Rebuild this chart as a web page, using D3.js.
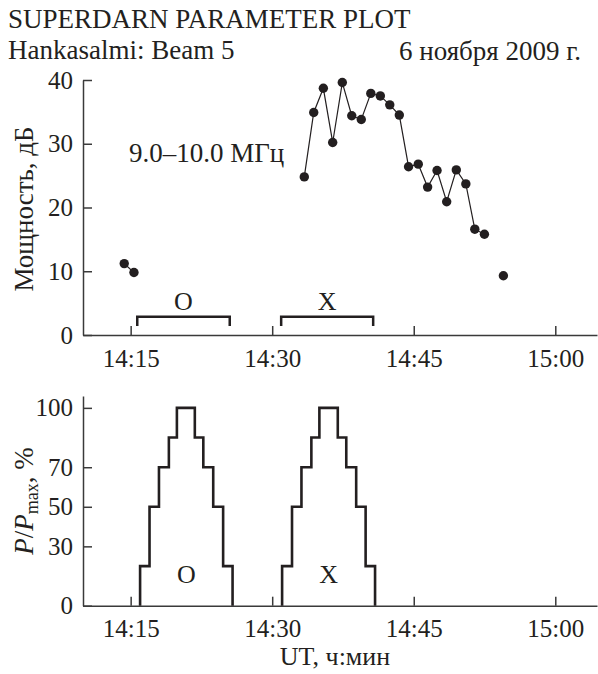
<!DOCTYPE html>
<html>
<head>
<meta charset="utf-8">
<script src="https://cdn.jsdelivr.net/npm/d3@7"></script>
<style>
  html, body { margin: 0; padding: 0; background: #fff; }
  svg { display: block; }
  svg text { font-family: "Liberation Serif", "Times New Roman", Tinos, "Nimbus Roman", "FreeSerif", "Noto Serif", "DejaVu Serif", serif !important; fill: #231f20; }
</style>
</head>
<body>
<svg id="chart" width="598" height="674"></svg>
<script>
// ---------- data (time in minutes after 14:00 UT) ----------
const powerTimes = [14.32, 15.35, 33.40, 34.40, 35.42, 36.41, 37.43, 38.43, 39.44, 40.45, 41.46,
                    42.46, 43.47, 44.45, 45.48, 46.47, 47.47, 48.49, 49.51, 50.52, 51.47, 52.49, 54.50];
const powerValues = [11.2, 9.8, 24.8, 34.9, 38.7, 30.2, 39.6, 34.4, 33.8, 37.9, 37.5,
                     36.1, 34.5, 26.4, 26.8, 23.2, 25.8, 20.9, 25.9, 23.7, 16.6, 15.8, 9.3];
const modeNames = ["O", "X"];
const modeRanges = [[15.7, 25.5], [30.95, 40.7]];
const stepTimesO = [16.0, 16.0, 17.0, 18.0, 19.05, 19.9, 21.8, 22.7, 23.75, 24.8, 25.8];
const stepTimesX = [31.05, 31.05, 32.1, 33.1, 34.15, 35.0, 36.95, 37.85, 38.9, 39.9, 40.9];
const stepLevels = [0, 20, 50, 70, 85, 100, 85, 70, 50, 20, 0];
const timeTicks = [15, 30, 45, 60];
const timeTickLabels = ["14:15", "14:30", "14:45", "15:00"];
const powerTicks = [0, 10, 20, 30, 40];
const ratioTicks = [0, 30, 50, 70, 100];

const svg = d3.select("#chart");
const ink = "#231f20";
const axisInk = "#3a3a3a";
const serif = '"Liberation Serif", "Times New Roman", Tinos, serif';

const x = d3.scaleLinear().domain([9.95, 64.42]).range([83, 597]);
const yTop = d3.scaleLinear().domain([0, 40]).range([335, 80]);
const yBot = d3.scaleLinear().domain([0, 106]).range([605.7, 396]);

const fmt = d => timeTickLabels[timeTicks.indexOf(d)];

function styleAxis(g) {
  g.attr("font-family", serif);
  g.selectAll("path, line").attr("stroke", axisInk).attr("stroke-width", 1.5);
  g.selectAll("text").attr("fill", ink).style("font-size", "25px");
}

// ---------- titles ----------
svg.append("text").attr("x", 8).attr("y", 28).style("font-size", "27px").text("SUPERDARN PARAMETER PLOT");
svg.append("text").attr("x", 8).attr("y", 59).style("font-size", "27px").text("Hankasalmi: Beam 5");
svg.append("text").attr("x", 581).attr("y", 60).attr("text-anchor", "end").style("font-size", "27px").text("6 ноября 2009 г.");

// ---------- top panel ----------
const gTopX = svg.append("g").attr("transform", "translate(0,335)")
  .call(d3.axisBottom(x).tickValues(timeTicks).tickFormat(fmt).tickSizeInner(-9).tickSizeOuter(0).tickPadding(14));
styleAxis(gTopX);

const gTopY = svg.append("g").attr("transform", "translate(83,0)")
  .call(d3.axisLeft(yTop).tickValues(powerTicks).tickSizeInner(-9).tickSizeOuter(0).tickPadding(10));
styleAxis(gTopY);

svg.append("text").attr("transform", "translate(33,209) rotate(-90)").attr("text-anchor", "middle")
  .style("font-size", "27px").text("Мощность, дБ");

// split points into runs of consecutive samples
const pts = powerTimes.map((t, i) => ({ t, v: powerValues[i] }));
const runs = [];
pts.forEach((p, i) => {
  if (i === 0 || p.t - pts[i - 1].t > 1.5) runs.push([p]);
  else runs[runs.length - 1].push(p);
});
const line = d3.line().x(d => x(d.t)).y(d => yTop(d.v));
svg.append("g").selectAll("path").data(runs).join("path")
  .attr("d", line).attr("fill", "none").attr("stroke", ink).attr("stroke-width", 1.2);
svg.append("g").selectAll("circle").data(pts).join("circle")
  .attr("cx", d => x(d.t)).attr("cy", d => yTop(d.v)).attr("r", 4.7).attr("fill", ink);

svg.append("text").attr("x", 129).attr("y", 162).style("font-size", "27px").text("9.0–10.0 МГц");

// mode brackets
modeRanges.forEach((r, i) => {
  const x0 = x(r[0]), x1 = x(r[1]);
  svg.append("path")
    .attr("d", `M${x0},${yTop(1.4)}V${yTop(2.85)}H${x1}V${yTop(1.4)}`)
    .attr("fill", "none").attr("stroke", ink).attr("stroke-width", 2.5);
  svg.append("text").attr("x", (x0 + x1) / 2).attr("y", 310).attr("text-anchor", "middle")
    .style("font-size", "26px").text(modeNames[i]);
});

// ---------- bottom panel ----------
const gBotX = svg.append("g").attr("transform", "translate(0,605.7)")
  .call(d3.axisBottom(x).tickValues(timeTicks).tickFormat(fmt).tickSizeInner(-9).tickSizeOuter(0).tickPadding(14));
styleAxis(gBotX);

const gBotY = svg.append("g").attr("transform", "translate(83,0)")
  .call(d3.axisLeft(yBot).tickValues(ratioTicks).tickSizeInner(-9).tickSizeOuter(0).tickPadding(10));
styleAxis(gBotY);

const yl = svg.append("text").attr("transform", "translate(33,501) rotate(-90)").attr("text-anchor", "middle")
  .style("font-size", "27px");
yl.append("tspan").style("font-style", "italic").text("P");
yl.append("tspan").text("/");
yl.append("tspan").style("font-style", "italic").text("P");
yl.append("tspan").attr("dy", 5).style("font-size", "18px").text("max");
yl.append("tspan").attr("dy", -5).text(", %");

svg.append("text").attr("x", 335).attr("y", 665).attr("text-anchor", "middle").style("font-size", "26px").text("UT, ч:мин");

const step = d3.line().x(d => x(d[0])).y(d => yBot(d[1])).curve(d3.curveStepAfter);
[stepTimesO, stepTimesX].forEach((times, i) => {
  const data = times.map((t, k) => [t, stepLevels[k]]);
  svg.append("path").attr("d", step(data)).attr("fill", "none")
    .attr("stroke", ink).attr("stroke-width", 2.6).attr("stroke-linejoin", "miter");
  const mid = (times[0] + times[times.length - 1]) / 2;
  svg.append("text").attr("x", x(mid)).attr("y", 583).attr("text-anchor", "middle")
    .style("font-size", "26px").text(modeNames[i]);
});
</script>
</body>
</html>
